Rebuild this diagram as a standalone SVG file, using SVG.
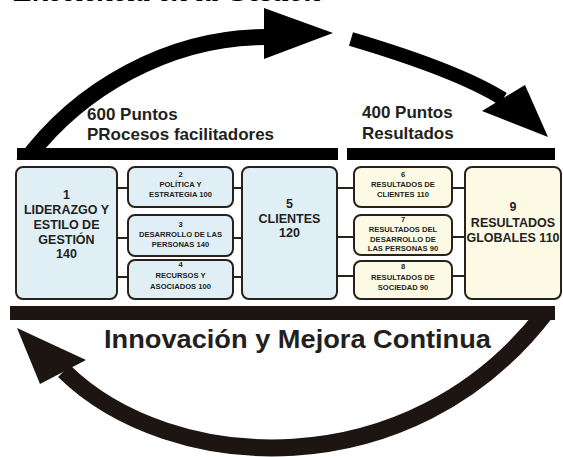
<svg xmlns="http://www.w3.org/2000/svg" width="563" height="457" viewBox="0 0 563 457">
<defs>
<style>
.blue{fill:#e0eef6;stroke:#2a211c;stroke-width:2}
.cream{fill:#fcf9e4;stroke:#2a211c;stroke-width:2}
.t{font-family:"Liberation Sans",Arial,sans-serif;font-weight:bold;fill:#231f20;text-anchor:middle}
.big{font-size:12.5px}
.sm{font-size:7.6px}
.lbl{font-family:"Liberation Sans",Arial,sans-serif;font-weight:bold;fill:#231f20;font-size:17px}
.conn{stroke:#2a211c;stroke-width:2;fill:none}
</style>
<clipPath id="clipTop"><rect x="0" y="0" width="563" height="160"/></clipPath>
</defs>
<rect width="563" height="457" fill="#ffffff"/>
<text x="14" y="1" font-family="'Liberation Serif','Times New Roman',serif" font-weight="bold" font-style="italic" font-size="30" fill="#000">Excelencia en la Gestión</text>

<g id="top-arrows">
<path d="M23,164 C78,88 170,37 266,37" stroke="#000" stroke-width="16" fill="none" clip-path="url(#clipTop)"/>
<polygon points="264,8 333,33 264,59" fill="#000"/>
<path d="M351,39 C405,55 465,75 503,99" stroke="#000" stroke-width="14" fill="none"/>
<polygon points="482,111 525,85 548,137" fill="#000"/>
<rect x="17" y="148" width="321" height="12" fill="#000"/>
<rect x="347" y="148" width="208" height="12" fill="#000"/>
</g>

<g id="bottom-arrow">
<rect x="10" y="306" width="545" height="14" fill="#1d1512"/>
<path d="M64,371 C170,475 410,490 546,312" stroke="#1d1512" stroke-width="17" fill="none"/>
<polygon points="17,328 40,384 86,360" fill="#1d1512"/>
</g>

<text class="lbl" x="87" y="120">600 Puntos</text>
<text class="lbl" x="87" y="140">PRocesos facilitadores</text>
<text class="lbl" x="362" y="118">400 Puntos</text>
<text class="lbl" x="362" y="139">Resultados</text>
<text x="104" y="348" font-family="'Liberation Sans',Arial,sans-serif" font-weight="bold" font-size="26.5" fill="#231f20" textLength="387" lengthAdjust="spacingAndGlyphs">Innovación y Mejora Continua</text>

<g id="connectors">
<line class="conn" x1="117" y1="188" x2="128" y2="188"/>
<line class="conn" x1="117" y1="238" x2="128" y2="238"/>
<line class="conn" x1="117" y1="277" x2="128" y2="277"/>
<line class="conn" x1="233" y1="188" x2="242" y2="188"/>
<line class="conn" x1="233" y1="238" x2="242" y2="238"/>
<line class="conn" x1="233" y1="277" x2="242" y2="277"/>
<line class="conn" x1="337" y1="188" x2="354" y2="188"/>
<line class="conn" x1="337" y1="237" x2="354" y2="237"/>
<line class="conn" x1="337" y1="276" x2="354" y2="276"/>
<line class="conn" x1="452" y1="188" x2="465" y2="188"/>
<line class="conn" x1="452" y1="237" x2="465" y2="237"/>
<line class="conn" x1="452" y1="276" x2="465" y2="276"/>
</g>

<g id="n1">
<rect class="blue" x="16" y="167" width="101" height="132" rx="7"/>
<text class="t big" x="66.5" y="199">1</text>
<text class="t big" x="66.5" y="214">LIDERAZGO Y</text>
<text class="t big" x="66.5" y="229">ESTILO DE</text>
<text class="t big" x="66.5" y="244">GESTIÓN</text>
<text class="t big" x="66.5" y="258">140</text>
</g>
<g id="n2">
<rect class="blue" x="128" y="167" width="105" height="40" rx="7"/>
<text class="t sm" x="180.5" y="177">2</text>
<text class="t sm" x="180.5" y="187">POLÍTICA Y</text>
<text class="t sm" x="180.5" y="197">ESTRATEGIA 100</text>
</g>
<g id="n3">
<rect class="blue" x="128" y="215" width="105" height="41" rx="7"/>
<text class="t sm" x="180.5" y="227">3</text>
<text class="t sm" x="180.5" y="237">DESARROLLO DE LAS</text>
<text class="t sm" x="180.5" y="247">PERSONAS 140</text>
</g>
<g id="n4">
<rect class="blue" x="128" y="260" width="105" height="39" rx="7"/>
<text class="t sm" x="180.5" y="267">4</text>
<text class="t sm" x="180.5" y="278">RECURSOS Y</text>
<text class="t sm" x="180.5" y="289">ASOCIADOS 100</text>
</g>
<g id="n5">
<rect class="blue" x="242" y="167" width="95" height="132" rx="7"/>
<text class="t big" x="289.5" y="208">5</text>
<text class="t big" x="289.5" y="223">CLIENTES</text>
<text class="t big" x="289.5" y="237">120</text>
</g>
<g id="n6">
<rect class="cream" x="354" y="167" width="98" height="40" rx="7"/>
<text class="t sm" x="403" y="177">6</text>
<text class="t sm" x="403" y="187">RESULTADOS DE</text>
<text class="t sm" x="403" y="197">CLIENTES 110</text>
</g>
<g id="n7">
<rect class="cream" x="354" y="215" width="98" height="40" rx="7"/>
<text class="t sm" x="403" y="222">7</text>
<text class="t sm" x="403" y="232">RESULTADOS DEL</text>
<text class="t sm" x="403" y="242">DESARROLLO DE</text>
<text class="t sm" x="403" y="251">LAS PERSONAS 90</text>
</g>
<g id="n8">
<rect class="cream" x="354" y="261" width="98" height="38" rx="7"/>
<text class="t sm" x="403" y="269">8</text>
<text class="t sm" x="403" y="280">RESULTADOS DE</text>
<text class="t sm" x="403" y="290">SOCIEDAD 90</text>
</g>
<g id="n9">
<rect class="cream" x="465" y="167" width="96" height="132" rx="7"/>
<text class="t big" x="513" y="211">9</text>
<text class="t big" x="513" y="227">RESULTADOS</text>
<text class="t big" x="513" y="242">GLOBALES 110</text>
</g>
</svg>
